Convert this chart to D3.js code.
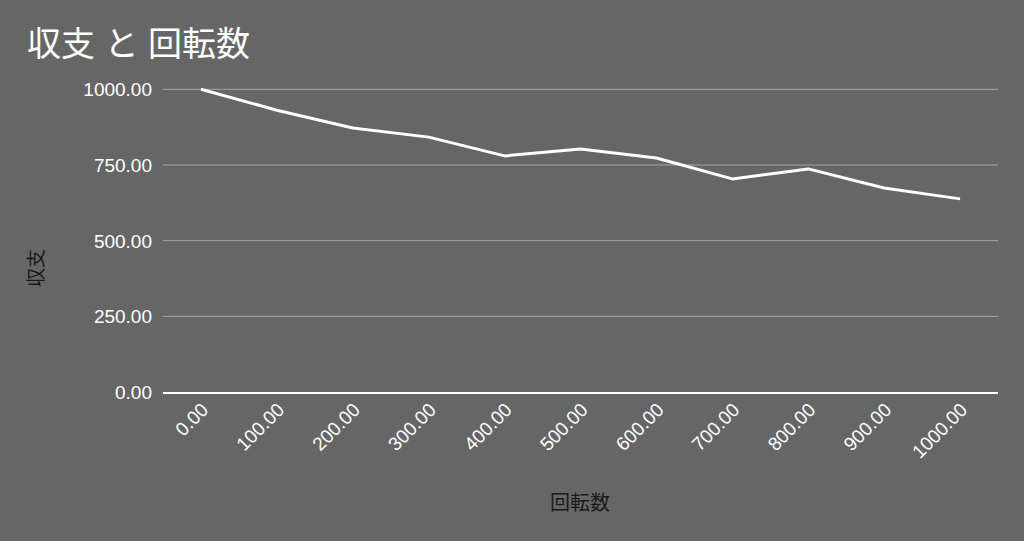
<!DOCTYPE html>
<html><head><meta charset="utf-8">
<script src="https://cdn.jsdelivr.net/npm/d3@7"></script>
<style>
html,body{margin:0;padding:0;background:#666666;}
svg{display:block;}
text{font-family:"Liberation Sans",Arial,"Noto Sans CJK JP",sans-serif;}
</style></head>
<body>
<svg id="c" width="1024" height="541"></svg>
<script>
const categories = ["0.00","100.00","200.00","300.00","400.00","500.00","600.00","700.00","800.00","900.00","1000.00"];
const values = [1000, 931, 872, 842, 780, 803, 773, 704, 737, 674, 638];
const yTicks = [0, 250, 500, 750, 1000];
const title = "収支 と 回転数";
const xTitle = "回転数";
const yTitle = "収支";

(function(){
const svg = d3.select("#c");
svg.append("rect").attr("width",1024).attr("height",541).attr("fill","#666666");

const pLeft = 163, pRight = 998, pTop = 89.3, pBottom = 392;
const x = d3.scalePoint().domain(categories).range([pLeft, pRight]).padding(0.5);
const y = d3.scaleLinear().domain([0, 1000]).range([pBottom, pTop]);

svg.append("g").selectAll("line").data(yTicks.filter(d=>d>0)).join("line")
  .attr("x1", pLeft).attr("x2", pRight)
  .attr("y1", d=>y(d)).attr("y2", d=>y(d))
  .attr("stroke", "#a6a6a6").attr("stroke-width", 1);

const yAxis = d3.axisLeft(y).tickValues(yTicks).tickFormat(d=>d3.format(".2f")(d)).tickSize(0).tickPadding(0);
const gy = svg.append("g").attr("transform", `translate(152,0)`).call(yAxis);
gy.select(".domain").remove();
gy.selectAll("text").attr("fill","#ffffff").style("font-size","19px").attr("dy","0.35em");

svg.append("line").attr("x1", pLeft).attr("x2", pRight).attr("y1", y(0)+1).attr("y2", y(0)+1)
  .attr("stroke","#ffffff").attr("stroke-width",2);

const xAxis = d3.axisBottom(x).tickSize(0).tickPadding(0);
const gx = svg.append("g").attr("transform", `translate(0,${pBottom})`).call(xAxis);
gx.select(".domain").remove();
gx.selectAll("text")
  .attr("fill","#ffffff").style("font-size","19px")
  .attr("text-anchor","end")
  .attr("dy", null).attr("y", null)
  .attr("transform","translate(8,19) rotate(-45)");
gx.attr("font-family", null);
gy.attr("font-family", null);

const line = d3.line().x((d,i)=>x(categories[i])).y(d=>y(d));
svg.append("path").datum(values).attr("d", line)
  .attr("fill","none").attr("stroke","#ffffff").attr("stroke-width",3)
  .attr("stroke-linejoin","round").attr("stroke-linecap","butt");

svg.append("text").attr("x", 27).attr("y", 56).text(title)
  .attr("fill","#ffffff").style("font-size","34px");
svg.append("text").attr("x", 580).attr("y", 510).attr("text-anchor","middle").text(xTitle)
  .attr("fill","#1a1a1a").style("font-size","20px");
svg.append("text").attr("transform","translate(43,268) rotate(-90)").attr("text-anchor","middle").text(yTitle)
  .attr("fill","#1a1a1a").style("font-size","19px");
})();
</script>
</body></html>
